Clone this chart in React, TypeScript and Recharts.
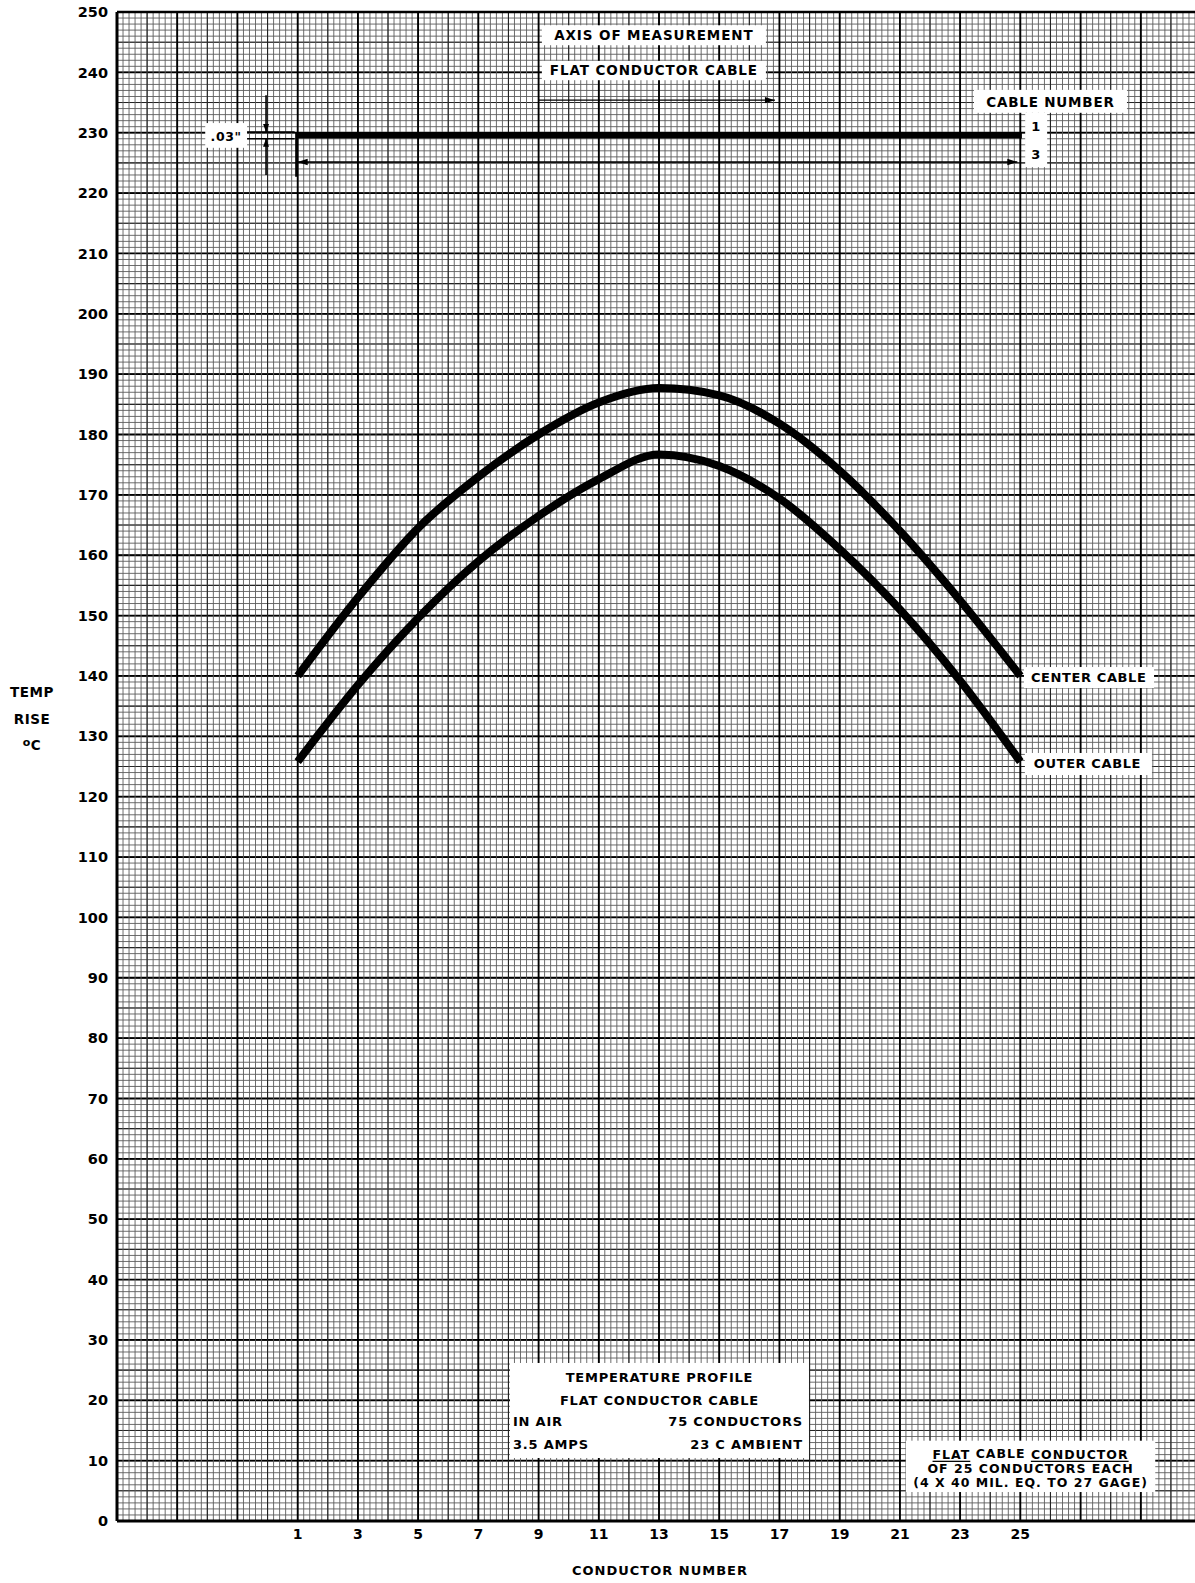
import React from 'react';
import {
  LineChart,
  Line,
  XAxis,
  YAxis,
  CartesianGrid,
  ReferenceLine,
} from 'recharts';

// ---------- data ----------
const conductors = [1, 3, 5, 7, 9, 11, 13, 15, 17, 19, 21, 23, 25];
const centerCable = [140, 153, 164.5, 173, 180, 185.3, 187.7, 186.5, 181.8, 174, 164, 152.5, 140];
const outerCable = [125.8, 138.5, 149.6, 159, 166.5, 172.6, 176.7, 174.8, 169.4, 161, 151, 139.2, 125.8];

const xTickLabels = [1, 3, 5, 7, 9, 11, 13, 15, 17, 19, 21, 23, 25];
const yTickLabels = [0, 10, 20, 30, 40, 50, 60, 70, 80, 90, 100, 110, 120, 130, 140, 150, 160, 170, 180, 190, 200, 210, 220, 230, 240, 250];

const X_DOMAIN: [number, number] = [-5, 30.8];
const Y_DOMAIN: [number, number] = [0, 250];

// graph-paper rulings (grid tick values)
function ruling(a: number, b: number, step: number): number[] {
  const out: number[] = [];
  const n = Math.round((b - a) / step);
  for (let i = 0; i <= n; i++) out.push(+(a + i * step).toFixed(4));
  return out;
}
const xMinor = ruling(-5, 30.8, 0.2);
const xMedium = ruling(-5, 30, 1);
const xMajor = ruling(-5, 29, 2);
const yMinor = ruling(0, 250, 1);
const yMedium = ruling(0, 250, 5);
const yMajor = ruling(0, 250, 10);

const rows = conductors.map((c, i) => ({ c, center: centerCable[i], outer: outerCable[i] }));

const FONT = "'DejaVu Sans', 'Liberation Sans', sans-serif";

const MINOR = { stroke: '#5c5c5c', strokeWidth: 0.9 };
const MEDIUM = { stroke: '#222', strokeWidth: 1.1 };
const MAJOR = { stroke: '#000', strokeWidth: 1.8 };

// ---------- helpers ----------
type Row = { text: React.ReactNode; dy: number; anchor?: 'start' | 'middle' | 'end'; dx?: number; size?: number; ls?: number };

// white note box drawn between two data-space corners of a segment
const noteBox = (lines: Row[], baseSize = 13, baseLs = 0.6) => (p: any) => {
  const { x1, y1, x2, y2 } = p;
  const x = Math.min(x1, x2);
  const y = Math.min(y1, y2);
  const width = Math.abs(x2 - x1);
  const height = Math.abs(y2 - y1);
  return (
    <g>
      <rect x={x} y={y} width={width} height={height} fill="#fff" stroke="none" />
      {lines.map((r, i) => {
        const anchor = r.anchor || 'middle';
        let tx = x + width / 2 + (r.dx || 0);
        if (anchor === 'start') tx = x + (r.dx || 0);
        if (anchor === 'end') tx = x + width - (r.dx || 0);
        return (
          <text
            key={i}
            x={tx}
            y={y + r.dy}
            textAnchor={anchor}
            dominantBaseline="central"
            fontFamily={FONT}
            fontWeight={700}
            fontSize={r.size || baseSize}
            letterSpacing={r.ls ?? baseLs}
            fill="#000"
          >
            {r.text}
          </text>
        );
      })}
    </g>
  );
};

const arrowShape = (start: boolean, end: boolean, w = 1.4, hl = 10, hw = 3.2) => (p: any) => {
  const { x1, y1, x2, y2 } = p;
  const dx = x2 - x1;
  const dy = y2 - y1;
  const len = Math.hypot(dx, dy) || 1;
  const ux = dx / len;
  const uy = dy / len;
  const px = -uy;
  const py = ux;
  const head = (tx: number, ty: number, dxu: number, dyu: number) =>
    `${tx},${ty} ${tx - dxu * hl + px * hw},${ty - dyu * hl + py * hw} ${tx - dxu * hl - px * hw},${ty - dyu * hl - py * hw}`;
  return (
    <g>
      <line x1={x1} y1={y1} x2={x2} y2={y2} stroke="#000" strokeWidth={w} />
      {end && <polygon points={head(x2, y2, ux, uy)} fill="#000" />}
      {start && <polygon points={head(x1, y1, -ux, -uy)} fill="#000" />}
    </g>
  );
};

const YTitle = (props: any) => {
  const vb = props.viewBox || {};
  const y0 = (vb.y || 0) + (vb.height || 0) / 2;
  const tx = 32;
  const common = { fontFamily: FONT, fontWeight: 700, fontSize: 13.5, fill: '#000', textAnchor: 'middle' as const, dominantBaseline: 'central' as const, letterSpacing: 0.5 };
  return (
    <g>
      <text x={tx} y={y0 - 75} {...common}>TEMP</text>
      <text x={tx} y={y0 - 48} {...common}>RISE</text>
      <text x={tx} y={y0 - 22} {...common}>
        <tspan fontSize={11} dy={-3}>o</tspan>
        <tspan dy={3}>C</tspan>
      </text>
    </g>
  );
};

const XTitle = (props: any) => {
  const vb = props.viewBox || {};
  return (
    <text
      x={(vb.x || 0) + (vb.width || 0) / 2 + 4}
      y={(vb.y || 0) + 49}
      textAnchor="middle"
      dominantBaseline="central"
      fontFamily={FONT}
      fontWeight={700}
      fontSize={13}
      letterSpacing={1}
      fill="#000"
    >
      CONDUCTOR NUMBER
    </text>
  );
};

export default function App() {
  return (
    <div style={{ position: 'absolute', left: 0, top: 0, width: 1195, height: 1583, background: '#fff' }}>
      <LineChart width={1195} height={1583} data={rows} margin={{ top: 12, right: 0, bottom: 0, left: 0 }}>
        {/* hidden ruling axes for horizontal graph-paper lines */}
        <YAxis yAxisId="yMinor" type="number" domain={Y_DOMAIN} ticks={yMinor} allowDataOverflow hide interval={0} />
        <YAxis yAxisId="yMedium" type="number" domain={Y_DOMAIN} ticks={yMedium} allowDataOverflow hide interval={0} />
        <YAxis yAxisId="yMajor" type="number" domain={Y_DOMAIN} ticks={yMajor} allowDataOverflow hide interval={0} />

        <CartesianGrid yAxisId="yMinor" vertical={false} {...MINOR} />
        <CartesianGrid yAxisId="yMedium" vertical={false} {...MEDIUM} />
        <CartesianGrid yAxisId="yMajor" vertical={false} {...MAJOR} />

        <XAxis
          dataKey="c"
          type="number"
          domain={X_DOMAIN}
          ticks={xTickLabels}
          allowDataOverflow
          interval={0}
          height={62}
          tickLine={false}
          axisLine={{ stroke: '#000', strokeWidth: 3 }}
          tick={{ fill: '#000', fontSize: 14, fontWeight: 700, fontFamily: FONT }}
          label={XTitle}
        />
        <YAxis
          type="number"
          domain={Y_DOMAIN}
          ticks={yTickLabels}
          allowDataOverflow
          interval={0}
          width={117}
          tickLine={false}
          tickMargin={3}
          axisLine={{ stroke: '#000', strokeWidth: 3 }}
          tick={{ fill: '#000', fontSize: 14.5, fontWeight: 700, fontFamily: FONT }}
          label={YTitle}
        />

        {/* vertical graph-paper lines */}
        {xMinor.map((v) => (
          <ReferenceLine key={`xm${v}`} x={v} {...MINOR} ifOverflow="visible" />
        ))}
        {xMedium.map((v) => (
          <ReferenceLine key={`xd${v}`} x={v} {...MEDIUM} ifOverflow="visible" />
        ))}
        {xMajor.map((v) => (
          <ReferenceLine key={`xM${v}`} x={v} {...MAJOR} ifOverflow="visible" />
        ))}
        <ReferenceLine y={250} stroke="#000" strokeWidth={2.5} ifOverflow="visible" />

        {/* top annotations */}
        <ReferenceLine segment={[{ x: 9.11, y: 247.8 }, { x: 16.55, y: 244.5 }]} ifOverflow="visible"
          shape={noteBox([{ text: 'AXIS OF MEASUREMENT', dy: 10 }], 13.5, 0.9)} />
        <ReferenceLine segment={[{ x: 9.11, y: 241.9 }, { x: 16.55, y: 238.7 }]} ifOverflow="visible"
          shape={noteBox([{ text: 'FLAT CONDUCTOR CABLE', dy: 9.5 }], 13.5, 0.9)} />
        <ReferenceLine segment={[{ x: 8.98, y: 235.4 }, { x: 16.85, y: 235.4 }]} ifOverflow="visible" shape={arrowShape(false, true)} />

        <ReferenceLine segment={[{ x: 23.46, y: 237.1 }, { x: 28.54, y: 233.3 }]} ifOverflow="visible"
          shape={noteBox([{ text: 'CABLE NUMBER', dy: 12 }], 13.5, 0.8)} />
        <ReferenceLine segment={[{ x: 25.16, y: 233.3 }, { x: 25.89, y: 224.3 }]} ifOverflow="visible"
          shape={noteBox([{ text: '1', dy: 14 }, { text: '3', dy: 42 }])} />

        <ReferenceLine segment={[{ x: 1, y: 229.6 }, { x: 25.05, y: 229.6 }]} stroke="#000" strokeWidth={6.5} ifOverflow="visible" />
        <ReferenceLine segment={[{ x: 1, y: 225.15 }, { x: 24.9, y: 225.15 }]} ifOverflow="visible" shape={arrowShape(true, true)} />
        <ReferenceLine segment={[{ x: 0.95, y: 230.1 }, { x: 0.95, y: 222.7 }]} stroke="#000" strokeWidth={2} ifOverflow="visible" />

        <ReferenceLine segment={[{ x: -2.07, y: 231.6 }, { x: -0.68, y: 227.5 }]} ifOverflow="visible"
          shape={noteBox([{ text: '.03"', dy: 13, size: 12.5 }])} />
        <ReferenceLine segment={[{ x: -0.05, y: 236.2 }, { x: -0.05, y: 230.1 }]} ifOverflow="visible" shape={arrowShape(false, true, 1.6, 8, 3)} />
        <ReferenceLine segment={[{ x: -0.05, y: 223.0 }, { x: -0.05, y: 229.0 }]} ifOverflow="visible" shape={arrowShape(false, true, 1.6, 8, 3)} />
        <ReferenceLine segment={[{ x: -0.68, y: 230.1 }, { x: 0.9, y: 230.1 }]} stroke="#000" strokeWidth={1.5} ifOverflow="visible" />
        <ReferenceLine segment={[{ x: -0.68, y: 229.0 }, { x: 0.9, y: 229.0 }]} stroke="#000" strokeWidth={1.5} ifOverflow="visible" />

        {/* curve labels */}
        <ReferenceLine segment={[{ x: 25.12, y: 141.48 }, { x: 29.44, y: 138.0 }]} ifOverflow="visible"
          shape={noteBox([{ text: 'CENTER CABLE', dy: 10.5, anchor: 'start', dx: 7 }])} />
        <ReferenceLine segment={[{ x: 25.15, y: 127.24 }, { x: 29.37, y: 123.59 }]} ifOverflow="visible"
          shape={noteBox([{ text: 'OUTER CABLE', dy: 11, anchor: 'start', dx: 9 }])} />

        {/* bottom notes */}
        <ReferenceLine segment={[{ x: 8.05, y: 26.18 }, { x: 17.98, y: 10.44 }]} ifOverflow="visible"
          shape={noteBox([
            { text: 'TEMPERATURE PROFILE', dy: 15 },
            { text: 'FLAT CONDUCTOR CABLE', dy: 38 },
            { text: 'IN AIR', dy: 59, anchor: 'start', dx: 3 },
            { text: '75 CONDUCTORS', dy: 59, anchor: 'end', dx: 6 },
            { text: '3.5 AMPS', dy: 82, anchor: 'start', dx: 3 },
            { text: '23 C AMBIENT', dy: 82, anchor: 'end', dx: 6 },
          ], 13, 0.8)} />
        <ReferenceLine segment={[{ x: 21.2, y: 13.3 }, { x: 29.48, y: 4.8 }]} ifOverflow="visible"
          shape={noteBox([
            {
              text: (
                <>
                  <tspan textDecoration="underline">FLAT</tspan> CABLE <tspan textDecoration="underline">CONDUCTOR</tspan>
                </>
              ),
              dy: 13,
            },
            { text: 'OF 25 CONDUCTORS EACH', dy: 27.5 },
            { text: '(4 X 40 MIL. EQ. TO  27 GAGE)', dy: 42 },
          ], 12.5, 1)} />

        <Line dataKey="center" type="monotone" stroke="#000" strokeWidth={8} dot={false} activeDot={false} isAnimationActive={false} />
        <Line dataKey="outer" type="monotone" stroke="#000" strokeWidth={8} dot={false} activeDot={false} isAnimationActive={false} />
      </LineChart>
    </div>
  );
}
